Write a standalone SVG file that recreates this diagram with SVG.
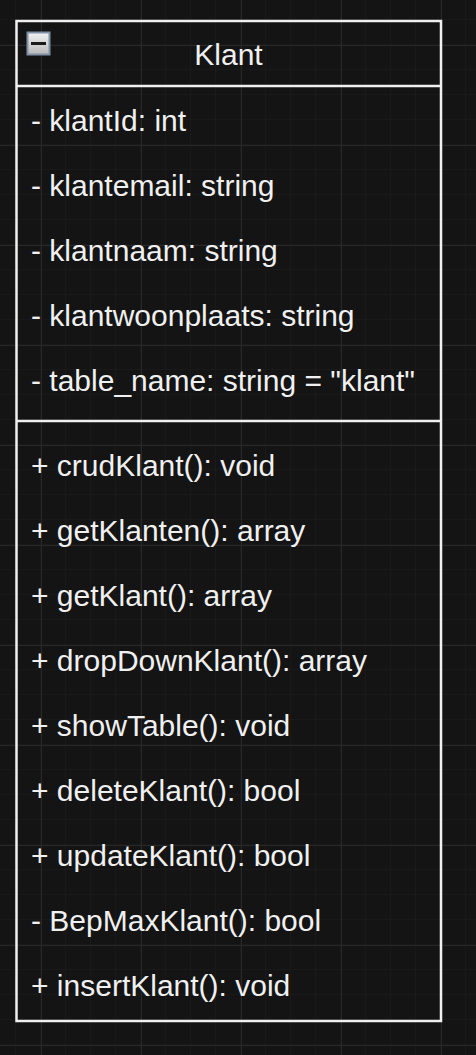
<svg xmlns="http://www.w3.org/2000/svg" width="476" height="1055" viewBox="0 0 476 1055">
<defs>
<pattern id="minor" x="16" y="20" width="25" height="25" patternUnits="userSpaceOnUse">
<path d="M25 0V25M0 25H25" fill="none" stroke="#1d1d1d" stroke-width="1"/>
</pattern>
<pattern id="major" x="41" y="45" width="100" height="100" patternUnits="userSpaceOnUse">
<path d="M0.5 0V100M0 0.5H100" fill="none" stroke="#282828" stroke-width="1"/>
</pattern>
<linearGradient id="ic" x1="0" y1="0" x2="0" y2="1">
<stop offset="0" stop-color="#f2f2f2"/>
<stop offset="1" stop-color="#b8b8b8"/>
</linearGradient>
</defs>
<style>
.t{font-family:"Liberation Sans",Arial,sans-serif;font-size:30px;fill:#f0f0f0}
.ln{stroke:#f0f0f0;stroke-width:2.5;fill:none}
</style>
<rect width="476" height="1055" fill="#141414"/>
<rect width="476" height="1055" fill="url(#minor)"/>
<rect width="476" height="1055" fill="url(#major)"/>
<g id="klant">
<rect class="ln" x="16.5" y="21" width="424.5" height="1000"/>
<line class="ln" x1="16.5" y1="86" x2="441" y2="86"/>
<line class="ln" x1="16.5" y1="421" x2="441" y2="421"/>
<rect x="27.5" y="32.5" width="22" height="22" fill="url(#ic)" stroke="#8090a8" stroke-width="2"/>
<rect x="31" y="42" width="15" height="3" fill="#1a1a1a"/>
<text class="t" x="228.5" y="65" text-anchor="middle">Klant</text>
<text class="t" x="31" y="131">- klantId: int</text>
<text class="t" x="31" y="196">- klantemail: string</text>
<text class="t" x="31" y="261">- klantnaam: string</text>
<text class="t" x="31" y="326">- klantwoonplaats: string</text>
<text class="t" x="31" y="391">- table_name: string = "klant"</text>
<text class="t" x="31" y="476">+ crudKlant(): void</text>
<text class="t" x="31" y="541">+ getKlanten(): array</text>
<text class="t" x="31" y="606">+ getKlant(): array</text>
<text class="t" x="31" y="671">+ dropDownKlant(): array</text>
<text class="t" x="31" y="736">+ showTable(): void</text>
<text class="t" x="31" y="801">+ deleteKlant(): bool</text>
<text class="t" x="31" y="866">+ updateKlant(): bool</text>
<text class="t" x="31" y="931">- BepMaxKlant(): bool</text>
<text class="t" x="31" y="996">+ insertKlant(): void</text>
</g>
<g id="connectors"/>
</svg>
